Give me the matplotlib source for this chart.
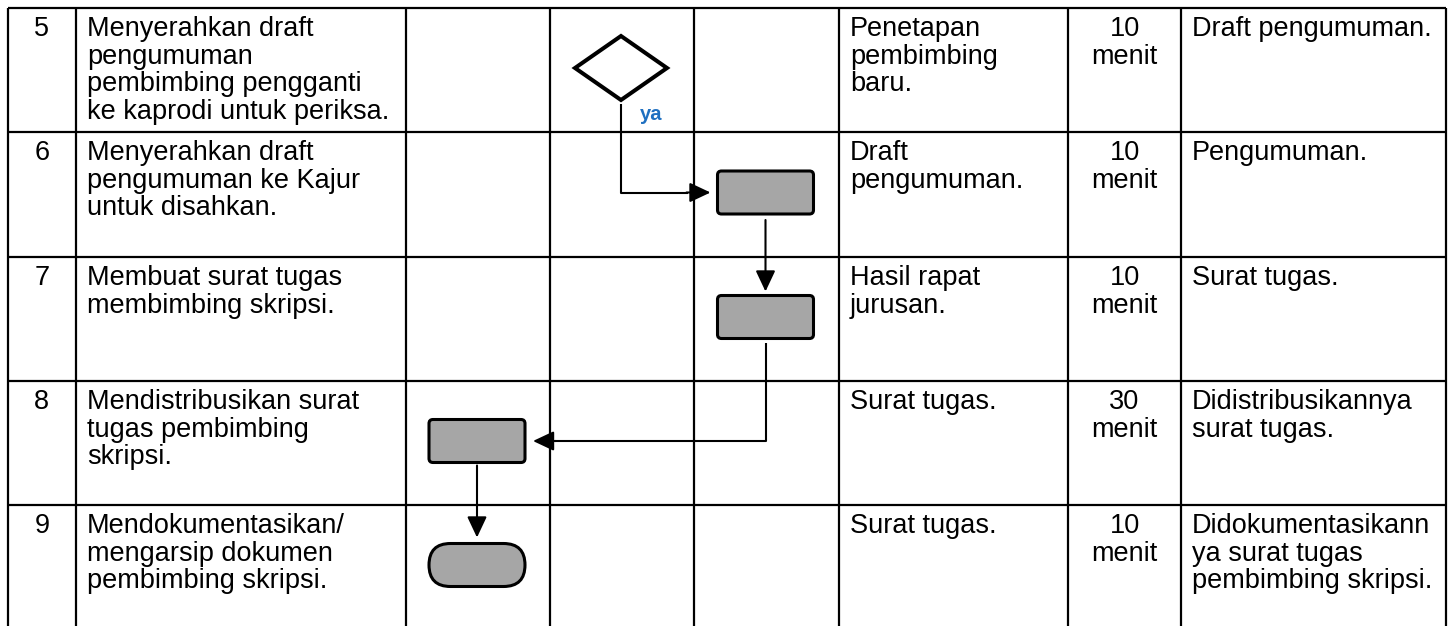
import matplotlib
matplotlib.use("Agg")
import matplotlib.pyplot as plt
from matplotlib.patches import FancyBboxPatch, Polygon

plt.rcParams['font.family'] = ['Liberation Sans', 'DejaVu Sans']

# table content
step_no = ["5", "6", "7", "8", "9"]
activity = [
    ["Menyerahkan draft", "pengumuman", "pembimbing pengganti", "ke kaprodi untuk periksa."],
    ["Menyerahkan draft", "pengumuman ke Kajur", "untuk disahkan."],
    ["Membuat surat tugas", "membimbing skripsi."],
    ["Mendistribusikan surat", "tugas pembimbing", "skripsi."],
    ["Mendokumentasikan/", "mengarsip dokumen", "pembimbing skripsi."],
]
inputs = [
    ["Penetapan", "pembimbing", "baru."],
    ["Draft", "pengumuman."],
    ["Hasil rapat", "jurusan."],
    ["Surat tugas."],
    ["Surat tugas."],
]
times = [["10", "menit"], ["10", "menit"], ["10", "menit"], ["30", "menit"], ["10", "menit"]]
outputs = [
    ["Draft pengumuman."],
    ["Pengumuman."],
    ["Surat tugas."],
    ["Didistribusikannya", "surat tugas."],
    ["Didokumentasikann", "ya surat tugas", "pembimbing skripsi."],
]
# flowchart: lane (column index) and symbol per row
flow_col = [3, 4, 4, 2, 2]
flow_shape = ["decision", "process", "process", "process", "terminator"]
decision_label = "ya"

# layout (pixels)
W, H = 1454, 626
col_x = [7.5, 76, 406, 550, 694, 839, 1068, 1181, 1446]
row_y = [8, 132, 257, 381, 505, 629]
grey = "#a6a6a6"

fig = plt.figure(figsize=(W / 100, H / 100), dpi=100)
ax = fig.add_axes([0, 0, 1, 1])
ax.set_xlim(0, W)
ax.set_ylim(H, 0)
ax.axis("off")

# grid
for x in col_x:
    ax.plot([x, x], [row_y[0], H], color="black", lw=1.6, solid_capstyle="butt")
for y in row_y[:-1]:
    ax.plot([col_x[0], col_x[-1]], [y, y], color="black", lw=1.6, solid_capstyle="butt")

fs = 19.5
lh = 27.6


def cell_text(lines, c, r, align="left"):
    if align == "center":
        x = (col_x[c] + col_x[c + 1]) / 2
    else:
        x = col_x[c] + 11
    for i, s in enumerate(lines):
        ax.text(x, row_y[r] + 28 + i * lh, s, fontsize=fs, ha=align, va="baseline")


for r in range(len(step_no)):
    cell_text([step_no[r]], 0, r, "center")
    cell_text(activity[r], 1, r)
    cell_text(inputs[r], 5, r)
    cell_text(times[r], 6, r, "center")
    cell_text(outputs[r], 7, r)

# flowchart symbols
bw, bh = 96, 43
centers = []
for r, (c, shape) in enumerate(zip(flow_col, flow_shape)):
    cx = (col_x[c] + col_x[c + 1]) / 2 - 1
    cy = (row_y[r] + row_y[r + 1]) / 2 - 2
    centers.append((cx, cy))
    if shape == "decision":
        ax.add_patch(Polygon([(cx - 46, cy), (cx, cy - 32), (cx + 46, cy), (cx, cy + 32)],
                             closed=True, facecolor="white", edgecolor="black", lw=2.9,
                             joinstyle="miter"))
    elif shape == "process":
        ax.add_patch(FancyBboxPatch((cx - bw / 2 + 4, cy - bh / 2 + 4), bw - 8, bh - 8,
                                    boxstyle="round,pad=4", facecolor=grey,
                                    edgecolor="black", lw=2.2))
    else:
        ax.add_patch(FancyBboxPatch((cx - bw / 2, cy - bh / 2), bw, bh,
                                    boxstyle="round,pad=0,rounding_size=21.5",
                                    facecolor=grey, edgecolor="black", lw=2.2))

arr = dict(arrowstyle="-|>,head_length=0.85,head_width=0.4", color="black", lw=1.5,
           shrinkA=0, shrinkB=0, mutation_scale=15)
con = dict(color="black", lw=1.5, solid_capstyle="butt")

# 5 -> 6 (decision "ya", elbow)
(x0, y0), (x1, y1) = centers[0], centers[1]
ax.plot([x0, x0, x1 - bw / 2 - 30], [y0 + 36, y1, y1], **con)
ax.annotate("", xy=(x1 - bw / 2 - 7, y1), xytext=(x1 - bw / 2 - 31, y1), arrowprops=arr)
ax.text(x0 + 30, y0 + 47, decision_label, color="#1f70c1", fontsize=14.5,
        fontweight="bold", ha="center", va="center")

# 6 -> 7
(x0, y0), (x1, y1) = centers[1], centers[2]
ax.annotate("", xy=(x1, y1 - bh / 2 - 4), xytext=(x0, y0 + bh / 2 + 6), arrowprops=arr)

# 7 -> 8 (elbow, leftwards)
(x0, y0), (x1, y1) = centers[2], centers[3]
ax.plot([x0, x0, x1 + bw / 2 + 30], [y0 + bh / 2 + 4, y1, y1], **con)
ax.annotate("", xy=(x1 + bw / 2 + 8, y1), xytext=(x1 + bw / 2 + 31, y1), arrowprops=arr)

# 8 -> 9
(x0, y0), (x1, y1) = centers[3], centers[4]
ax.annotate("", xy=(x1, y1 - bh / 2 - 6), xytext=(x0, y0 + bh / 2 + 3), arrowprops=arr)

fig.savefig("out.png", dpi=100)
